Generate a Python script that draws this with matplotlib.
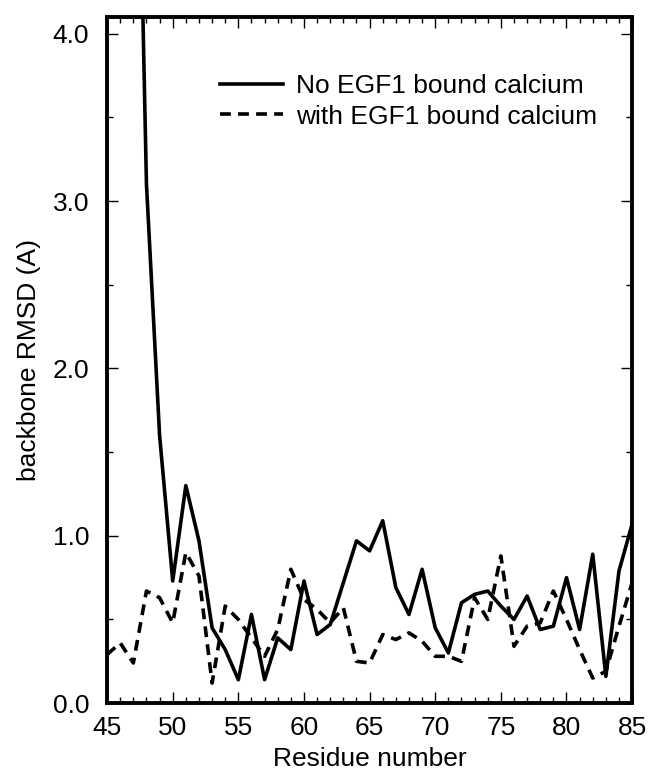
import matplotlib
matplotlib.use("Agg")
import matplotlib.pyplot as plt
from matplotlib.ticker import MultipleLocator, FormatStrFormatter

plt.rcParams['font.family'] = ['Liberation Sans', 'DejaVu Sans']

residue = list(range(45, 86))

# backbone RMSD without EGF1 bound calcium (first points run off the top)
rmsd_no_ca = [12.0, 9.0, 6.8, 3.1, 1.6, 0.73, 1.30, 0.97, 0.45, 0.32,
              0.14, 0.53, 0.14, 0.39, 0.32, 0.73, 0.41, 0.47, 0.72, 0.97,
              0.91, 1.09, 0.69, 0.53, 0.80, 0.45, 0.30, 0.60, 0.65, 0.67,
              0.58, 0.50, 0.64, 0.44, 0.46, 0.75, 0.44, 0.89, 0.16, 0.79,
              1.07]

# backbone RMSD with EGF1 bound calcium
rmsd_ca = [0.29, 0.36, 0.24, 0.67, 0.63, 0.48, 0.90, 0.76, 0.12, 0.58,
           0.50, 0.39, 0.28, 0.44, 0.80, 0.62, 0.56, 0.48, 0.57, 0.25,
           0.24, 0.41, 0.38, 0.42, 0.37, 0.28, 0.28, 0.25, 0.63, 0.50,
           0.88, 0.34, 0.46, 0.48, 0.67, 0.50, 0.32, 0.15, 0.19, 0.46,
           0.72]

fs = 19

fig = plt.figure(figsize=(6.49, 7.71), dpi=100)
ax = fig.add_axes([0.165, 0.088, 0.809, 0.890])

ax.plot(residue, rmsd_no_ca, color='black', lw=2.6, ls='-',
        label='No EGF1 bound calcium')
ax.plot(residue, rmsd_ca, color='black', lw=2.6, ls=(0, (3.0, 2.0)),
        label='with EGF1 bound calcium')

ax.set_xlim(45, 85)
ax.set_ylim(0, 4.1)
ax.xaxis.set_major_locator(MultipleLocator(5))
ax.xaxis.set_minor_locator(MultipleLocator(1))
ax.yaxis.set_major_locator(MultipleLocator(1))
ax.yaxis.set_minor_locator(MultipleLocator(0.5))
ax.yaxis.set_major_formatter(FormatStrFormatter('%.1f'))
ax.tick_params(which='both', direction='in', top=True, right=True,
               labelsize=fs, width=1)
ax.tick_params(which='major', length=8)
ax.tick_params(which='minor', length=4)
ax.tick_params(axis='x', which='major', pad=9)
ax.tick_params(axis='y', which='major', pad=13)
for s in ax.spines.values():
    s.set_linewidth(2.8)

ax.set_xlabel('Residue number', fontsize=fs, labelpad=5)
ax.set_ylabel('backbone RMSD (A)', fontsize=fs, labelpad=8)

ax.legend(loc='upper left', bbox_to_anchor=(0.215, 0.917), frameon=False,
          fontsize=fs, handlelength=2.4, handletextpad=0.5,
          borderaxespad=0, borderpad=0, labelspacing=0.25)

fig.savefig('out.png', dpi=100)
